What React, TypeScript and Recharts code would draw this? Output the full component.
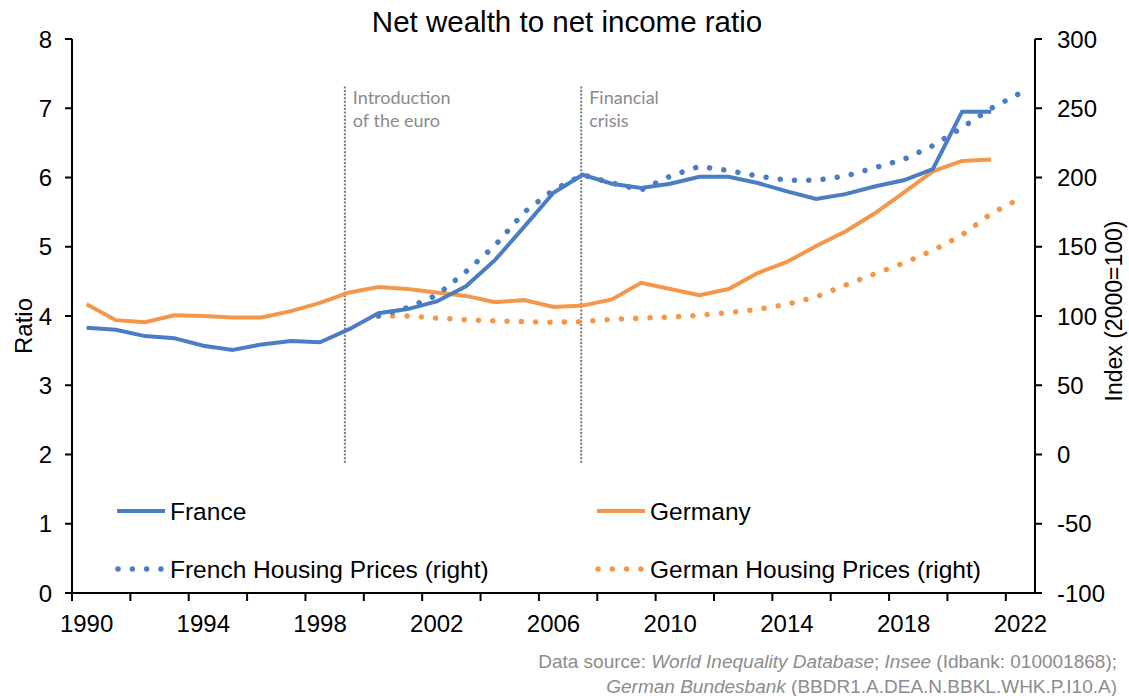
import React from 'react';
import { LineChart, Line, XAxis, YAxis, ReferenceLine } from 'recharts';

const years = [
    1990, 1991, 1992, 1993, 1994, 1995, 1996, 1997, 1998, 1999, 2000, 2001, 2002, 2003, 2004, 2005, 2006,
    2007, 2008, 2009, 2010, 2011, 2012, 2013, 2014, 2015, 2016, 2017, 2018, 2019, 2020, 2021, 2022,
];

// ratio, left axis
const france = [
    3.83, 3.8, 3.71, 3.68, 3.57, 3.51, 3.59, 3.64, 3.62, 3.81, 4.04, 4.1, 4.21, 4.43, 4.81, 5.29, 5.78,
    6.04, 5.91, 5.85, 5.91, 6.01, 6.01, 5.92, 5.8, 5.69, 5.76, 5.87, 5.96, 6.12, 6.95, 6.95, null,
];
const germany = [
    4.17, 3.94, 3.91, 4.01, 4.0, 3.98, 3.98, 4.07, 4.19, 4.34, 4.42, 4.39, 4.34, 4.29, 4.2, 4.23, 4.13,
    4.15, 4.24, 4.48, 4.39, 4.3, 4.39, 4.62, 4.78, 5.01, 5.22, 5.48, 5.78, 6.09, 6.24, 6.26, null,
];

// index 2000=100, right axis
const frenchHousing = [
    null, null, null, null, null, null, null, null, null, null, 100, 106, 115, 132, 151, 175, 191,
    202, 196, 191, 201, 208, 205, 201, 198, 198, 201, 207, 213, 223, 236, 250, 261,
];
const germanHousing = [
    null, null, null, null, null, null, null, null, null, null, 100, 100, 98.5, 97.3, 96.5, 95.9, 95.5,
    96, 97.6, 98.5, 99.3, 100.5, 102.4, 104.8, 108.4, 113.8, 122.3, 130.4, 138.2, 147.4, 158.4, 174, 185,
];

const xLabelTicks = [1990, 1994, 1998, 2002, 2006, 2010, 2014, 2018, 2022];
const xMarkTicks = [
    1989.5, 1991.5, 1993.5, 1995.5, 1997.5, 1999.5, 2001.5, 2003.5, 2005.5, 2007.5, 2009.5, 2011.5,
    2013.5, 2015.5, 2017.5, 2019.5, 2021.5,
];
const leftTicks = [0, 1, 2, 3, 4, 5, 6, 7, 8];
const rightTicks = [-100, -50, 0, 50, 100, 150, 200, 250, 300];

const events = [
    { x: 1998.85, lines: ['Introduction', 'of the euro'] },
    { x: 2006.95, lines: ['Financial', 'crisis'] },
];

const BLUE = '#4a7dc4';
const ORANGE = '#f4974a';
const FONT = '"Liberation Sans", Arial, sans-serif';
const DOTS = '0.01 14.3';

const data = years.map((year, i) => ({
    year,
    france: france[i],
    germany: germany[i],
    frenchHousing: frenchHousing[i],
    germanHousing: germanHousing[i],
}));

const AxisTitle = (props: any) => {
    const { px, py, text, size = 24 } = props;
    return (
        <text
            x={px}
            y={py}
            transform={`rotate(-90 ${px} ${py})`}
            textAnchor="middle"
            dominantBaseline="central"
            fontSize={size}
            fontFamily={FONT}
            fill="#000"
        >
            {text}
        </text>
    );
};

const eventLabel = (lines: string[]) => (props: any) => {
    const { viewBox } = props;
    const x = (viewBox?.x ?? 0) + 8;
    const y = viewBox?.y ?? 0;
    return (
        <g>
            {lines.map((l, i) => (
                <text key={l} x={x} y={y + 19 + i * 23} fontSize={18} fontFamily="Lato, sans-serif" fill="#8a8a8a">
                    {l}
                </text>
            ))}
        </g>
    );
};

const legend = [
    { name: 'France', color: BLUE, dotted: false, x: 117, y: 511 },
    { name: 'Germany', color: ORANGE, dotted: false, x: 597, y: 511 },
    { name: 'French Housing Prices (right)', color: BLUE, dotted: true, x: 117, y: 569 },
    { name: 'German Housing Prices (right)', color: ORANGE, dotted: true, x: 597, y: 569 },
];

export default function App() {
    return (
        <div style={{ position: 'absolute', left: 0, top: 0, width: 1129, height: 696, background: '#fff' }}>
            <LineChart width={1129} height={640} data={data} margin={{ top: 39, right: 0, bottom: 0, left: 0 }}>
                <XAxis
                    xAxisId="axis"
                    dataKey="year"
                    type="number"
                    domain={[1989.5, 2022.5]}
                    ticks={xMarkTicks}
                    tickFormatter={() => ''}
                    height={10}
                    tickSize={8}
                    axisLine={{ stroke: '#000', strokeWidth: 2 }}
                    tickLine={{ stroke: '#000', strokeWidth: 2 }}
                />
                <XAxis
                    xAxisId="labels"
                    dataKey="year"
                    type="number"
                    domain={[1989.5, 2022.5]}
                    ticks={xLabelTicks}
                    height={37}
                    tickSize={0}
                    tickMargin={12}
                    axisLine={false}
                    tickLine={false}
                    tick={{ fontSize: 24, fill: '#000', fontFamily: FONT }}
                />
                <YAxis
                    yAxisId="left"
                    orientation="left"
                    domain={[0, 8]}
                    ticks={leftTicks}
                    width={72}
                    tickSize={7}
                    tickMargin={13}
                    axisLine={{ stroke: '#000', strokeWidth: 2 }}
                    tickLine={{ stroke: '#000', strokeWidth: 2 }}
                    tick={{ fontSize: 24, fill: '#000', fontFamily: FONT }}
                    label={<AxisTitle px={23} py={326} text="Ratio" />}
                />
                <YAxis
                    yAxisId="right"
                    orientation="right"
                    domain={[-100, 300]}
                    ticks={rightTicks}
                    width={94}
                    tickSize={7}
                    tickMargin={15}
                    axisLine={{ stroke: '#000', strokeWidth: 2 }}
                    tickLine={{ stroke: '#000', strokeWidth: 2 }}
                    tick={{ fontSize: 24, fill: '#000', fontFamily: FONT }}
                    label={<AxisTitle px={1114} py={311} size={23} text="Index (2000=100)" />}
                />
                {events.map((e) => (
                    <ReferenceLine
                        key={e.x}
                        xAxisId="axis"
                        yAxisId="left"
                        segment={[
                            { x: e.x, y: 1.88 },
                            { x: e.x, y: 7.33 },
                        ]}
                        stroke="#777"
                        strokeWidth={2}
                        strokeDasharray="2 1.6"
                        label={eventLabel(e.lines)}
                    />
                ))}
                <Line
                    xAxisId="axis"
                    yAxisId="right"
                    dataKey="germanHousing"
                    stroke={ORANGE}
                    strokeWidth={5.5}
                    strokeLinecap="round"
                    strokeDasharray={DOTS}
                    dot={false}
                    isAnimationActive={false}
                />
                <Line
                    xAxisId="axis"
                    yAxisId="left"
                    dataKey="germany"
                    stroke={ORANGE}
                    strokeWidth={4}
                    dot={false}
                    isAnimationActive={false}
                />
                <Line
                    xAxisId="axis"
                    yAxisId="right"
                    dataKey="frenchHousing"
                    stroke={BLUE}
                    strokeWidth={5.5}
                    strokeLinecap="round"
                    strokeDasharray={DOTS}
                    dot={false}
                    isAnimationActive={false}
                />
                <Line
                    xAxisId="axis"
                    yAxisId="left"
                    dataKey="france"
                    stroke={BLUE}
                    strokeWidth={4}
                    dot={false}
                    isAnimationActive={false}
                />
            </LineChart>
            <svg
                width={1129}
                height={696}
                style={{ position: 'absolute', left: 0, top: 0, pointerEvents: 'none' }}
                fontFamily={FONT}
            >
                <text x={567} y={32} textAnchor="middle" fontSize={29.5} fill="#000">
                    Net wealth to net income ratio
                </text>
                {legend.map((l) => (
                    <g key={l.name}>
                        {l.dotted ? (
                            <line
                                x1={l.x + 1}
                                x2={l.x + 45}
                                y1={l.y}
                                y2={l.y}
                                stroke={l.color}
                                strokeWidth={5.5}
                                strokeLinecap="round"
                                strokeDasharray="0.01 14.3"
                            />
                        ) : (
                            <line x1={l.x} x2={l.x + 48} y1={l.y} y2={l.y} stroke={l.color} strokeWidth={4} />
                        )}
                        <text x={l.x + 53} y={l.y} dominantBaseline="central" fontSize={24.5} fill="#000">
                            {l.name}
                        </text>
                    </g>
                ))}
                <text x={1117} y={668} textAnchor="end" fontSize={19} fill="#8c8c8c">
                    Data source: <tspan fontStyle="italic">World Inequality Database</tspan>;{' '}
                    <tspan fontStyle="italic">Insee</tspan> (Idbank: 010001868);
                </text>
                <text x={1117} y={693} textAnchor="end" fontSize={19} fill="#8c8c8c">
                    <tspan fontStyle="italic">German Bundesbank</tspan> (BBDR1.A.DEA.N.BBKL.WHK.P.I10.A)
                </text>
            </svg>
        </div>
    );
}
